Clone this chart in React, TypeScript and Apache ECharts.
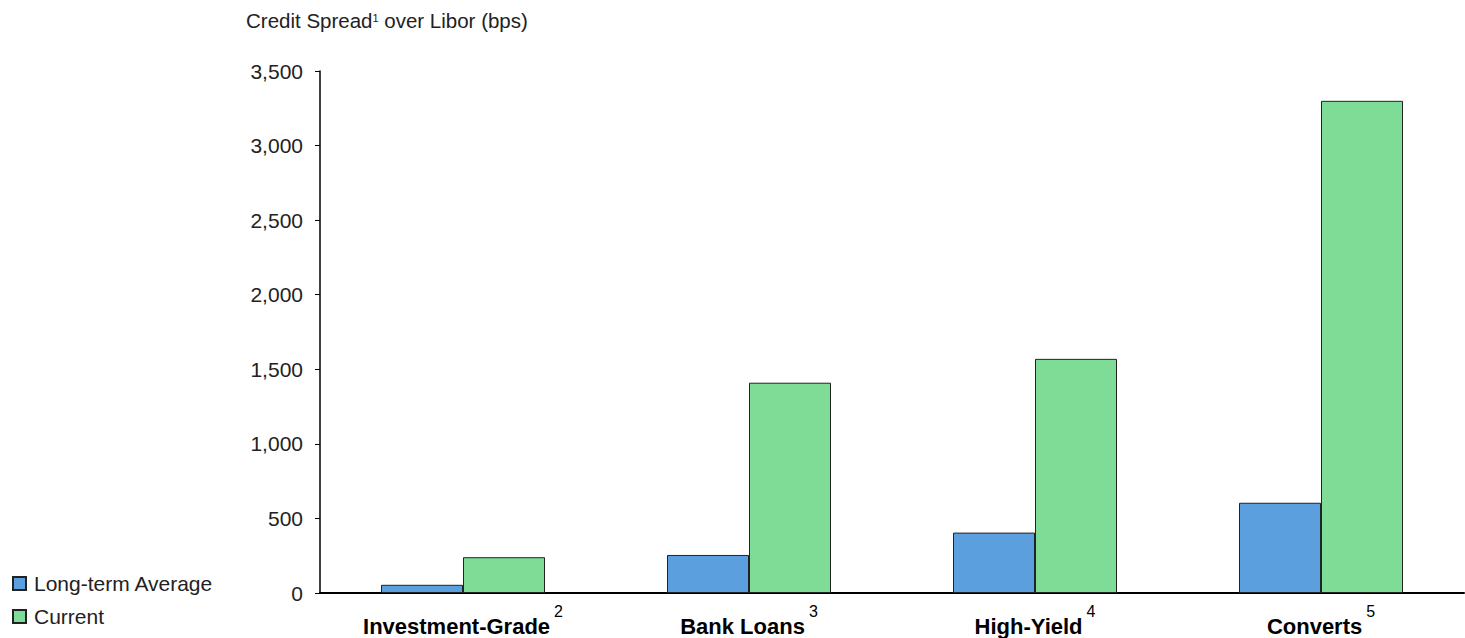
import React, { useEffect, useRef } from "react";
import * as echarts from "echarts";

const categories = ["Investment-Grade", "Bank Loans", "High-Yield", "Converts"];
const footnotes = ["2", "3", "4", "5"];
const longTermAverage = [55, 255, 405, 605];
const current = [240, 1410, 1570, 3300];
const yTicks = [0, 500, 1000, 1500, 2000, 2500, 3000, 3500];

export default function App() {
  const ref = useRef<HTMLDivElement>(null);
  useEffect(() => {
    document.body.style.margin = "0";
    const chart = echarts.init(ref.current!, null, { renderer: "svg" });
    const font = "'Liberation Sans', Arial, sans-serif";
    chart.setOption({
      animation: false,
      textStyle: { fontFamily: font },
      title: {
        text: "Credit Spread{s|1} over Libor (bps)",
        left: 241,
        top: 5,
        textStyle: {
          fontSize: 20.5,
          fontWeight: "normal",
          color: "#222",
          fontFamily: font,
          rich: { s: { fontSize: 11, color: "#222", padding: [0, 0, 6, 0], fontFamily: font } },
        },
      },
      legend: {
        orient: "vertical",
        left: 7,
        top: 568,
        itemWidth: 13,
        itemHeight: 13,
        itemGap: 12,
        icon: "rect",
        textStyle: { fontSize: 21, color: "#222", fontFamily: font, padding: [0, 0, 0, 3] },
        data: ["Long-term Average", "Current"],
      },
      grid: { left: 320, top: 71, width: 1144, height: 522, containLabel: false },
      xAxis: {
        type: "category",
        data: categories,
        axisLine: { lineStyle: { color: "#000", width: 2 } },
        axisTick: { show: false },
        axisLabel: {
          interval: 0,
          margin: 10,
          formatter: (v: string, i: number) => `{b|${v}}{s|${footnotes[i]}}`,
          rich: {
            b: { fontSize: 22, fontWeight: "bold", color: "#000", fontFamily: font },
            s: { fontSize: 16, color: "#000", padding: [0, 0, 30, 4], fontFamily: font },
          },
        },
      },
      yAxis: {
        type: "value",
        min: 0,
        max: 3500,
        interval: 500,
        axisLine: { show: true, lineStyle: { color: "#000", width: 1.5 } },
        axisTick: { show: true, inside: false, length: 5, lineStyle: { color: "#000" } },
        splitLine: { show: false },
        axisLabel: {
          fontSize: 21,
          color: "#222",
          margin: 17,
          formatter: (v: number) => (yTicks.includes(v) ? v.toLocaleString("en-US") : ""),
        },
      },
      series: [
        {
          name: "Long-term Average",
          type: "bar",
          data: longTermAverage,
          barWidth: 82,
          barGap: "0%",
          itemStyle: { color: "#5B9FDE", borderColor: "#222", borderWidth: 1 },
        },
        {
          name: "Current",
          type: "bar",
          data: current,
          barWidth: 82,
          barGap: "0%",
          itemStyle: { color: "#7EDC96", borderColor: "#222", borderWidth: 1 },
        },
      ],
    });
    return () => chart.dispose();
  }, []);
  return <div ref={ref} style={{ width: 1465, height: 638 }} />;
}
